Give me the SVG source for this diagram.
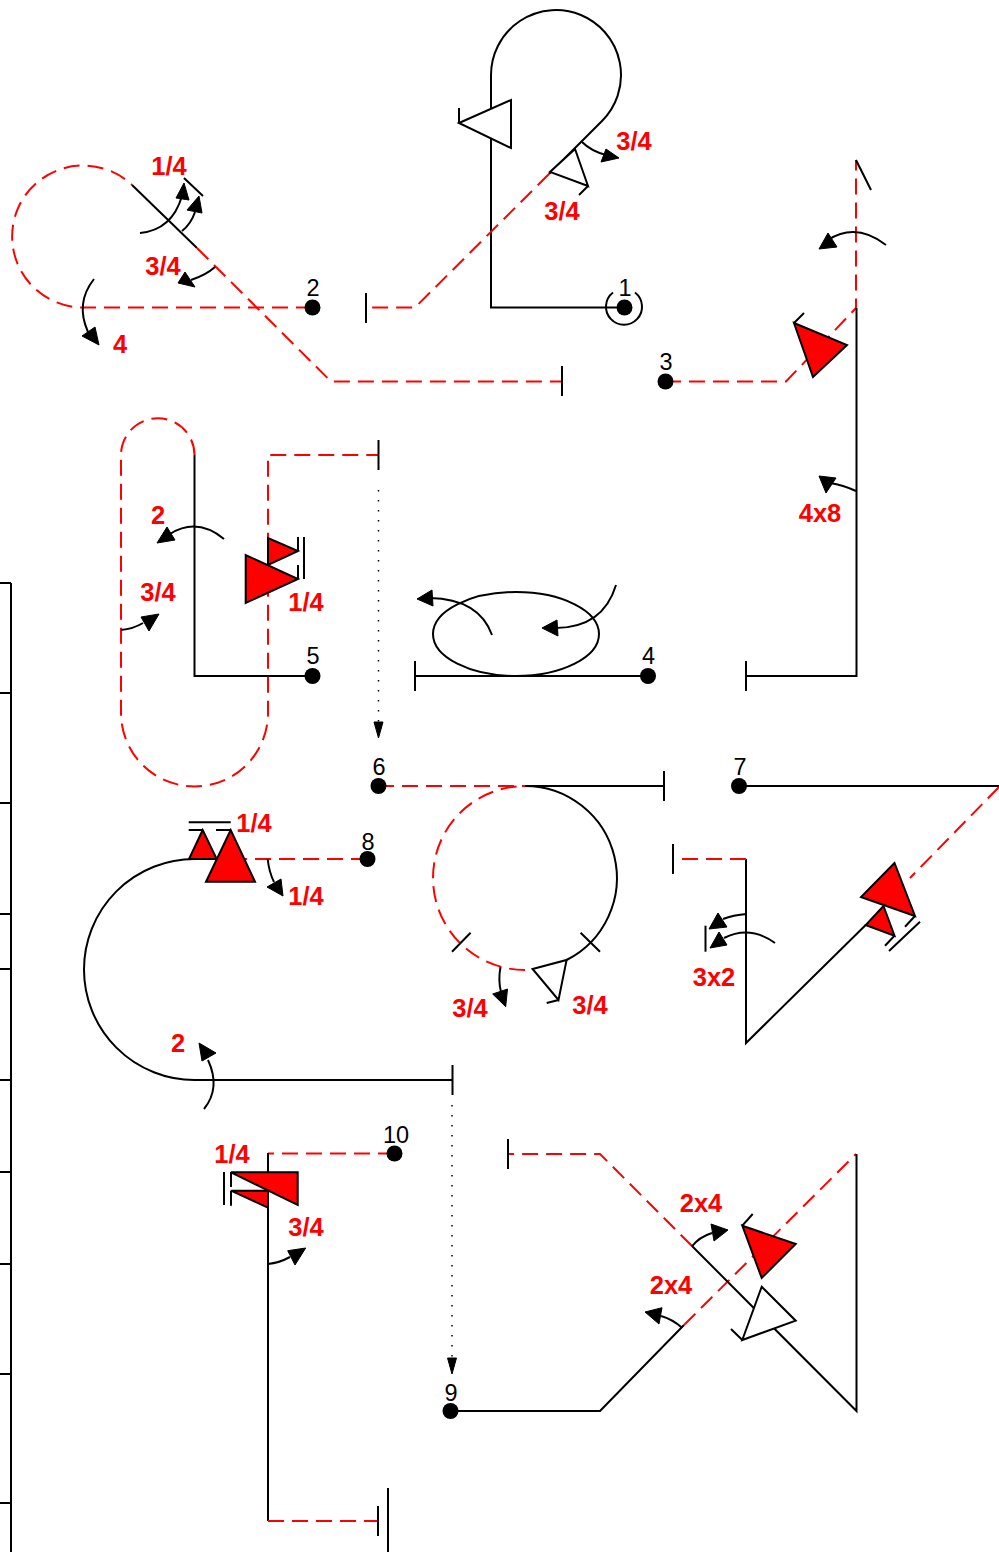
<svg xmlns="http://www.w3.org/2000/svg" width="999" height="1552" viewBox="0 0 999 1552">
<style>
.k{fill:none;stroke:#000;stroke-width:2}
.r{fill:none;stroke:#f00;stroke-width:2;stroke-dasharray:16 8}
.d{fill:none;stroke:#000;stroke-width:1.5;stroke-dasharray:1.5 8.500}
.a{fill:none;stroke:#000;stroke-width:2}
.h{fill:#000;stroke:#000;stroke-width:1}
.tw{fill:#fff;stroke:#000;stroke-width:2}
.tr{fill:#f00;stroke:#000;stroke-width:2}
.n{fill:#000}
text{font-family:"Liberation Sans",Arial,sans-serif;text-anchor:middle}
.num{font-size:23.5px;fill:#000}
.lab{font-size:25.5px;font-weight:bold;fill:#f00}
</style>
<rect width="999" height="1552" fill="#fff"/>
<g id="table">
<path class="k" d="M11 583V1552M0 583H11M0 693H11M0 803H11M0 914H11M0 969H11M0 1080H11M0 1172H11M0 1264H11M0 1374H11M0 1503H11"/>
</g>
<g id="connectors">
<!-- route 1 -->
<path class="k" d="M624 307.500H491V75A65 65 0 1 1 602 121L549 174"/>
<path class="r" d="M549 174L415 307.500H366"/>
<path class="k" d="M366 293V323"/>
<path class="k" d="M613 292.500A18 18 0 1 0 635 292.500"/>
<path class="a" d="M582 142Q591 151 606 155"/>
<polygon class="h" points="619,158 606,149 601,162"/>
<!-- route 2 -->
<path class="r" d="M312 307.500H82A71 71 0 1 1 132 185"/>
<path class="k" d="M132 185L197 248"/>
<path class="r" d="M197 248L331 381.500H562"/>
<path class="k" d="M562 366V396M184 178L203 196"/>
<path class="a" d="M140 233Q172 230 182 196"/>
<polygon class="h" points="184,183 176,198 189,200"/>
<path class="a" d="M182 231Q191 224 195 212"/>
<polygon class="h" points="199,196 187,210 202,213"/>
<path class="a" d="M215 267Q206 275 191 280"/>
<polygon class="h" points="178,283 185,272 195,287"/>
<path class="a" d="M94 279Q75 303 88 332"/>
<polygon class="h" points="99,345 82,336 95,327"/>
<!-- route 3 -->
<path class="r" d="M665 381.500H786L856 308V160"/>
<path class="k" d="M856.500 308V676H746M746 661V691M856 160L871 190"/>
<path class="a" d="M886 245Q856 222 828 240"/>
<polygon class="h" points="819,249 828,233 837,247"/>
<path class="a" d="M856 491Q843 485 830 483"/>
<polygon class="h" points="819,476 836,478 826,493"/>
<!-- route 4 -->
<path class="k" d="M648 676H415M415 661V691"/>
<ellipse class="k" cx="516" cy="634" rx="83" ry="42"/>
<path class="a" d="M492 635Q479 599 430 598"/>
<polygon class="h" points="417,599 432,590 433,606"/>
<path class="a" d="M616 585Q603 628 555 628"/>
<polygon class="h" points="542,628 557,620 558,636"/>
<!-- route 5 -->
<path class="k" d="M312 676H194.500V455"/>
<path class="r" d="M194.500 455A36.500 36.500 0 0 0 121 455V713A73.500 73.500 0 0 0 268 713V455H378"/>
<path class="k" d="M378.500 440V470"/>
<path class="d" d="M378.500 490V725"/>
<polygon class="h" points="378.500,738 374,722 383,722"/>
<path class="a" d="M224 539Q197 517 170 534"/>
<polygon class="h" points="157,543 167,527 175,540"/>
<path class="a" d="M121 630Q133 629 143 623"/>
<polygon class="h" points="159,614 141,617 149,631"/>
<!-- route 6 -->
<path class="r" d="M378 786H525"/>
<path class="k" d="M525 786H664M664 771V801"/>
<path class="k" d="M525 786A92 92 0 0 1 566.600 960"/>
<path class="r" d="M525 970A92 92 0 0 1 525 786"/>
<path class="k" d="M580.600 932.700L600 951.700M452 951.700L470.600 932.700"/>
<path class="a" d="M500.500 967Q498 980 501 992"/>
<polygon class="h" points="505.700,1006.700 492.700,994 507.500,989"/>
<!-- route 7 -->
<path class="k" d="M739 786H999"/>
<path class="r" d="M999 787L910 878"/>
<path class="k" d="M865.700 925L746 1043V859"/>
<path class="r" d="M746 859H673"/>
<path class="k" d="M673 844V874"/>
<path class="a" d="M746.800 914Q733 915 723 919"/>
<polygon class="h" points="709,929 718,913 727,927"/>
<path class="a" d="M775 943Q750 925 724 938"/>
<polygon class="h" points="710,948 719,932 727,945"/>
<path class="k" d="M705.500 925.700V951.700"/>
<!-- route 8 -->
<path class="r" d="M367 859H190"/>
<path class="k" d="M194.500 859A110.500 110.500 0 0 0 194.500 1080H452.500M452.500 1065V1095"/>
<path class="d" d="M452 1105V1360"/>
<polygon class="h" points="452,1374 447.500,1358 456.500,1358"/>
<path class="a" d="M267.700 859Q269 872 274 882"/>
<polygon class="h" points="283,896 267,887 281,879"/>
<path class="a" d="M204 1109Q221 1088 208 1060"/>
<polygon class="h" points="199,1043 202,1061 216,1053"/>
<!-- route 9 -->
<path class="k" d="M450 1411H600L684 1325"/>
<path class="r" d="M684 1325L856 1154"/>
<path class="k" d="M856.500 1154V1411L692 1246"/>
<path class="r" d="M692 1246L600 1154H508"/>
<path class="k" d="M508 1139V1169"/>
<path class="a" d="M691.700 1246.700Q699 1237 712 1233"/>
<polygon class="h" points="728,1230 711,1224 714,1241"/>
<path class="a" d="M682 1327.700Q672 1319 661 1316"/>
<polygon class="h" points="645,1312 662,1307.700 659,1324"/>
<!-- route 10 -->
<path class="r" d="M394 1153.500H268"/>
<path class="k" d="M268 1153V1521"/>
<path class="r" d="M268 1521H378"/>
<path class="k" d="M378 1506V1536M388 1488V1552"/>
<path class="a" d="M268 1264Q279 1263 290 1257"/>
<polygon class="h" points="305.700,1248 287.700,1250.700 295,1265"/>
</g>
<g id="marks">
<polygon class="tw" points="459,123 511,100 511,148"/><path class="k" d="M459 123V108"/>
<polygon class="tw" points="575,149 550,172 588,186"/><path class="k" d="M588 186L579 195"/>
<polygon class="tr" points="794,323 847,345 813,377"/><path class="k" d="M794 323L804 313"/>
<polygon class="tr" points="268,538 268,565 298,551"/>
<polygon class="tr" points="245.700,555 245.700,603 298,579"/>
<path class="k" d="M298 551V537M298 579V565M304 537V579"/>
<polygon class="tw" points="532.600,969 566.600,960 558.500,1000"/><path class="k" d="M558.500 1000L546.700 1003"/>
<polygon class="tr" points="894.500,863 861,897 915,916"/>
<polygon class="tr" points="883.500,906 865.700,925 894.500,935.700"/>
<path class="k" d="M915 916L905 926.700M894.500 935.700L885 945.700M920 921.700L889 951"/>
<polygon class="tr" points="202.700,830 189,859 216.700,859"/>
<polygon class="tr" points="230.700,830 206,881.700 255,881.700"/>
<path class="k" d="M230.700 830H216M202.700 830H188.700M188.700 822.300H230.700"/>
<polygon class="tr" points="231,1172.300 297.700,1172.300 297.700,1205"/>
<polygon class="tr" points="231,1190.700 268,1190.700 268,1207.700"/>
<path class="k" d="M231 1172V1187M231 1190.700V1205.700M224 1172V1205"/>
<polygon class="tr" points="742.300,1225.700 795.700,1244 761.700,1278"/><path class="k" d="M742.300 1225.700L752.700 1214"/>
<polygon class="tw" points="761.700,1286.700 795.700,1320.700 742.300,1340"/><path class="k" d="M742.300 1340L731 1329"/>
</g>
<g id="node1"><circle class="n" cx="624.500" cy="307.500" r="8"/><text class="num" x="625" y="296">1</text></g>
<g id="node2"><circle class="n" cx="312.500" cy="307.500" r="8"/><text class="num" x="313" y="296">2</text></g>
<g id="node3"><circle class="n" cx="665.500" cy="381.500" r="8"/><text class="num" x="666" y="370">3</text></g>
<g id="node4"><circle class="n" cx="648" cy="676" r="8"/><text class="num" x="648.500" y="664">4</text></g>
<g id="node5"><circle class="n" cx="312.500" cy="676" r="8"/><text class="num" x="313" y="664">5</text></g>
<g id="node6"><circle class="n" cx="378.500" cy="786" r="8"/><text class="num" x="379" y="775">6</text></g>
<g id="node7"><circle class="n" cx="739" cy="786" r="8"/><text class="num" x="740" y="775">7</text></g>
<g id="node8"><circle class="n" cx="367.500" cy="859" r="8"/><text class="num" x="368" y="850">8</text></g>
<g id="node9"><circle class="n" cx="450.500" cy="1411" r="8"/><text class="num" x="451" y="1401">9</text></g>
<g id="node10"><circle class="n" cx="394.500" cy="1153.500" r="8"/><text class="num" x="396" y="1143">10</text></g>
<g id="labels">
<text class="lab" x="169" y="175">1/4</text>
<text class="lab" x="163" y="275">3/4</text>
<text class="lab" x="120" y="353">4</text>
<text class="lab" x="634" y="150">3/4</text>
<text class="lab" x="562" y="220">3/4</text>
<text class="lab" x="820" y="522">4x8</text>
<text class="lab" x="158" y="524">2</text>
<text class="lab" x="158" y="601">3/4</text>
<text class="lab" x="306" y="611">1/4</text>
<text class="lab" x="254" y="832">1/4</text>
<text class="lab" x="306" y="905">1/4</text>
<text class="lab" x="178" y="1052">2</text>
<text class="lab" x="470" y="1017">3/4</text>
<text class="lab" x="590" y="1014">3/4</text>
<text class="lab" x="714" y="986">3x2</text>
<text class="lab" x="232" y="1163">1/4</text>
<text class="lab" x="306" y="1236">3/4</text>
<text class="lab" x="701" y="1212">2x4</text>
<text class="lab" x="671" y="1294">2x4</text>
</g>
</svg>
